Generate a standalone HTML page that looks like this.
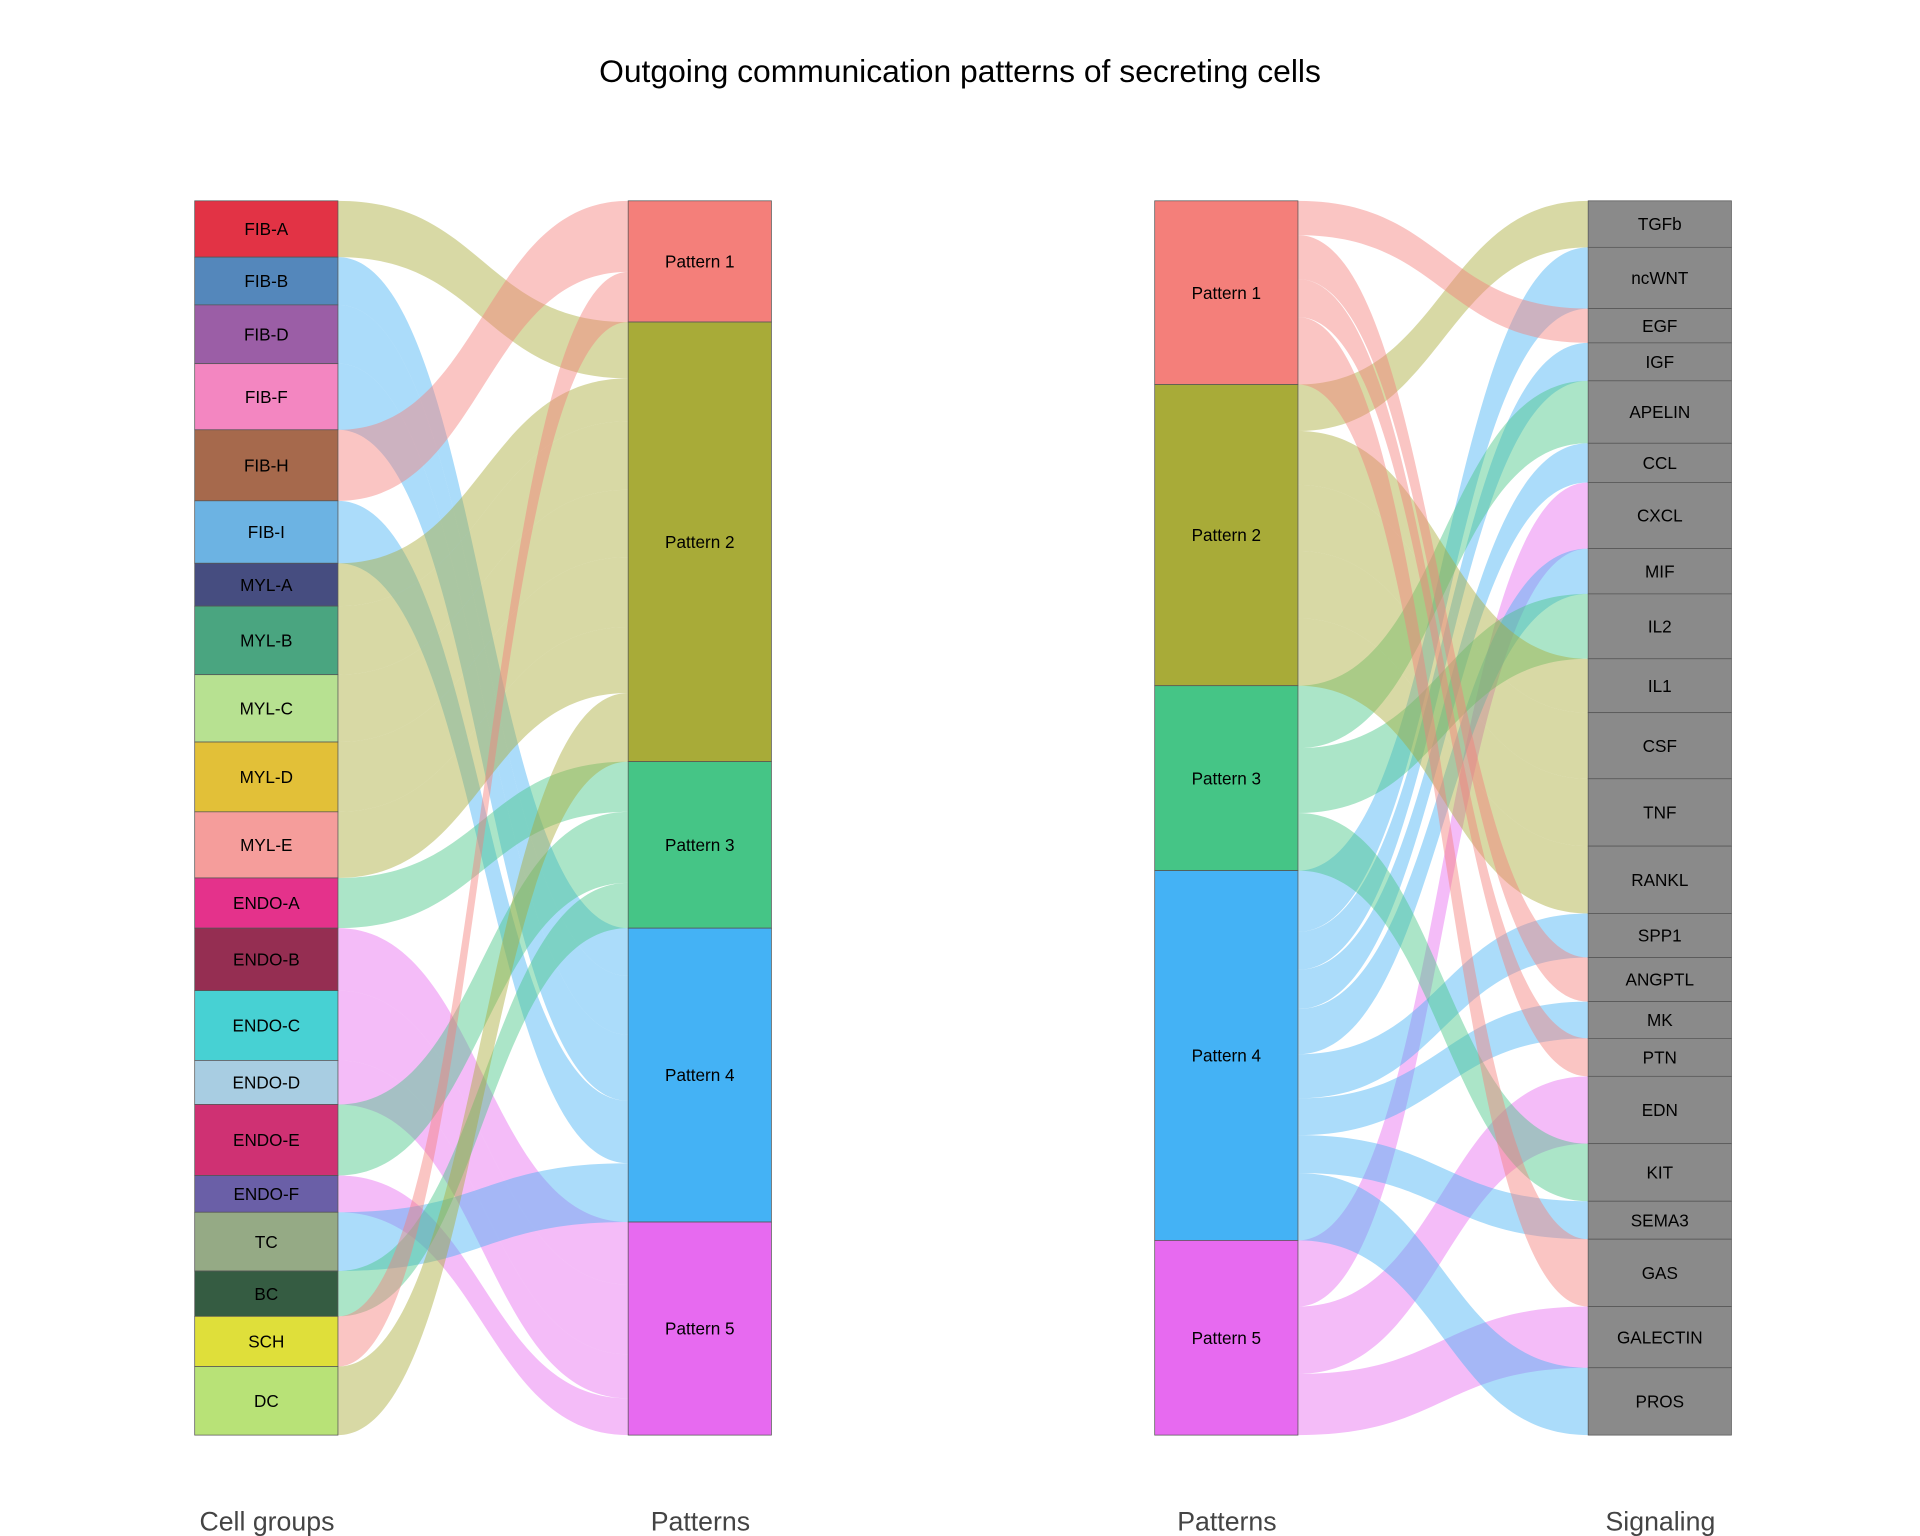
<!DOCTYPE html>
<html><head><meta charset="utf-8"><style>
html,body{margin:0;padding:0;background:#fff;}
svg{display:block;font-family:"Liberation Sans",Arial,sans-serif;}
</style></head><body>
<svg id="chart" width="1920" height="1536" viewBox="0 0 1568 1254.4" xmlns="http://www.w3.org/2000/svg">
<text x="784" y="67" text-anchor="middle" font-size="26" fill="#000">Outgoing communication patterns of secreting cells</text>
<g id="flows"></g>
<g id="nodes"></g>
<text x="218" y="1250" text-anchor="middle" font-size="21.8" fill="#444">Cell groups</text>
<text x="572" y="1250" text-anchor="middle" font-size="21.8" fill="#444">Patterns</text>
<text x="1002" y="1250" text-anchor="middle" font-size="21.8" fill="#444">Patterns</text>
<text x="1356" y="1250" text-anchor="middle" font-size="21.8" fill="#444">Signaling</text>
</svg>
<script>
const patternNames = ["Pattern 1","Pattern 2","Pattern 3","Pattern 4","Pattern 5"];
const patternColors = ["#f47f7a","#a8ab38","#45c586","#44b2f5","#e76af0"];
const cellNames = ["FIB-A","FIB-B","FIB-D","FIB-F","FIB-H","FIB-I","MYL-A","MYL-B","MYL-C","MYL-D","MYL-E","ENDO-A","ENDO-B","ENDO-C","ENDO-D","ENDO-E","ENDO-F","TC","BC","SCH","DC"];
const cellValues = [46,39,48,54,58,51,35,56,55,57,54,41,51,57,36,58,30,48,37,41,56];
const cellTargets = [1,3,3,3,0,3,1,1,1,1,1,2,4,4,4,2,4,3,2,0,1];
const cellColors = ["#e23345","#5487bb","#9b5ea6","#f386c1","#a6694c","#6cb3e3","#464d80","#4aa580","#b7e191","#e2c038","#f59d9b","#e4328b","#952e52","#47d1d3","#a8cde2","#cf3173","#6a5fa7","#95aa85","#355c42","#dfdf3a","#b8e277"];
const signalNames = ["TGFb","ncWNT","EGF","IGF","APELIN","CCL","CXCL","MIF","IL2","IL1","CSF","TNF","RANKL","SPP1","ANGPTL","MK","PTN","EDN","KIT","SEMA3","GAS","GALECTIN","PROS"];
const signalValues = [38,50,28,31,51,32,54,37,53,44,54,55,55,36,36,30,31,55,47,31,55,50,55];
const signalSources = [1,3,0,3,2,3,4,3,2,1,1,1,1,3,0,3,0,4,2,3,0,4,3];

const NS="http://www.w3.org/2000/svg";
const TOP=164, BOT=1172, NW=117;
const flowsG=document.getElementById('flows'), nodesG=document.getElementById('nodes');
function mk(tag,attrs,parent){const e=document.createElementNS(NS,tag);for(const k in attrs)e.setAttribute(k,attrs[k]);parent.appendChild(e);return e;}
function scaleFor(vals){const s=vals.reduce((a,b)=>a+b,0);return v=>v*(BOT-TOP)/s;}
function ribbon(x0,a0,a1,x1,b0,b1){const xm=(x0+x1)/2;return `M${x0},${a0}C${xm},${a0} ${xm},${b0} ${x1},${b0}L${x1},${b1}C${xm},${b1} ${xm},${a1} ${x0},${a1}Z`;}
function node(x,y0,y1,fill,label,name){
  const r=mk('rect',{x:x,y:y0,width:NW,height:y1-y0,fill:fill,stroke:'#555','stroke-width':0.6},nodesG);
  
  
  const t=mk('text',{x:x+NW/2,y:(y0+y1)/2+5,'text-anchor':'middle','font-size':14,fill:'#000'},nodesG);
  t.textContent=label;
  
  
}
function sankey(srcNames,srcVals,tgtIdx,srcColors,lx,rx,leftIsPattern,prefix){
  const sc=scaleFor(srcVals);
  const pSum=patternNames.map((_,p)=>srcVals.reduce((a,v,i)=>a+(tgtIdx[i]===p?v:0),0));
  const pY=[];let y=TOP;pSum.forEach(v=>{pY.push(y);y+=sc(v);});
  const pCur=pY.slice();
  let sy=TOP;
  const sxNode=leftIsPattern?rx:lx, pxNode=leftIsPattern?lx:rx;
  srcNames.forEach((n,i)=>{
    const h=sc(srcVals[i]), p=tgtIdx[i];
    const a0=sy,a1=sy+h,b0=pCur[p],b1=pCur[p]+h;
    let d;
    if(leftIsPattern) d=ribbon(lx+NW,b0,b1,rx,a0,a1); else d=ribbon(lx+NW,a0,a1,rx,b0,b1);
    const f=mk('path',{d:d,fill:patternColors[p],'fill-opacity':0.45,stroke:'none'},flowsG);
    
    
    node(sxNode,a0,a1,srcColors?srcColors[i]:'#8a8a8a',n,prefix+'node-'+n.toLowerCase());
    sy=a1;pCur[p]=b1;
  });
  patternNames.forEach((pn,p)=>node(pxNode,pY[p],pY[p]+sc(pSum[p]),patternColors[p],pn,prefix+'pattern-'+(p+1)));
}
sankey(cellNames,cellValues,cellTargets,cellColors,159,513,false,'left-');
sankey(signalNames,signalValues,signalSources,null,943,1297,true,'right-');
</script>
</body></html>
